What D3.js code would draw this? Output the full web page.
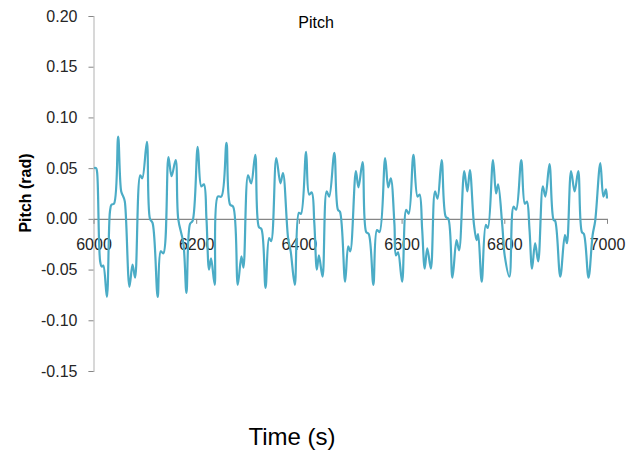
<!DOCTYPE html>
<html>
<head>
<meta charset="utf-8">
<script src="https://cdn.jsdelivr.net/npm/d3@7"></script>
<style>
  body { margin: 0; background: #fff; }
  text { font-family: "Liberation Sans", Arial, sans-serif; }
</style>
</head>
<body>
<div id="chart"></div>
<script>
// Time (s) and pitch (rad)
const time = [
  6001, 6005, 6007, 6013, 6016, 6019, 6026, 6032, 6035, 6040, 6048, 6054, 6058, 6061,
  6070, 6076, 6081, 6091, 6095, 6104, 6110, 6115, 6125, 6131, 6136, 6146, 6152, 6160,
  6165, 6175, 6181, 6188, 6193, 6203, 6210, 6215, 6220, 6225, 6229, 6236, 6242, 6249,
  6259, 6266, 6272, 6281, 6288, 6292, 6301, 6307, 6315, 6322, 6327, 6335, 6342, 6346,
  6356, 6364, 6369, 6379, 6384, 6392, 6400, 6404, 6414, 6420, 6425, 6430, 6435, 6439,
  6446, 6454, 6459, 6469, 6476, 6480, 6490, 6496, 6500, 6511, 6516, 6524, 6531, 6536,
  6545, 6552, 6557, 6568, 6574, 6579, 6586, 6589, 6593, 6601, 6609, 6614, 6623, 6631,
  6635, 6640, 6645, 6650, 6657, 6665, 6670, 6678, 6686, 6691, 6699, 6707, 6712, 6722,
  6728, 6733, 6741, 6746, 6749, 6756, 6764, 6768, 6778, 6784, 6788, 6796, 6801, 6810,
  6818, 6823, 6833, 6840, 6844, 6849, 6854, 6860, 6866, 6875, 6880, 6888, 6896, 6899,
  6909, 6918, 6922, 6930, 6937, 6944, 6951, 6955, 6964, 6972, 6977, 6987, 6993, 6998,
  7000
];
const pitch = [
  0.050, 0.050, 0.046, -0.042, -0.047, -0.046, -0.077, 0.007, 0.014, 0.015, 0.081, 0.027, 0.022, 0.017,
  -0.067, -0.045, -0.058, 0.043, 0.040, 0.076, 0.000, -0.004, -0.077, -0.032, -0.034, 0.061, 0.042, 0.058,
  0.000, -0.024, -0.073, -0.005, -0.002, 0.071, 0.032, 0.034, 0.000, -0.050, -0.039, -0.065, 0.022, 0.022,
  0.075, 0.014, 0.012, -0.065, -0.037, -0.048, 0.043, 0.035, 0.063, -0.008, -0.010, -0.068, -0.019, -0.022,
  0.060, 0.035, 0.045, -0.019, -0.032, -0.065, 0.006, 0.005, 0.066, 0.024, 0.026, -0.004, -0.050, -0.036,
  -0.057, 0.027, 0.022, 0.065, 0.009, 0.007, -0.062, -0.027, -0.032, 0.047, 0.031, 0.056, -0.013, -0.015,
  -0.065, -0.011, -0.013, 0.060, 0.031, 0.040, -0.005, -0.036, -0.033, -0.062, 0.009, 0.005, 0.063, 0.022,
  0.024, -0.010, -0.049, -0.029, -0.049, 0.027, 0.020, 0.058, 0.002, 0.000, -0.058, -0.021, -0.031, 0.047,
  0.027, 0.048, -0.006, -0.021, -0.015, -0.062, -0.006, -0.009, 0.058, 0.025, 0.034, -0.006, -0.037, -0.057,
  0.012, 0.009, 0.058, 0.015, 0.017, -0.010, -0.049, -0.024, -0.042, 0.032, 0.022, 0.054, -0.001, -0.002,
  -0.057, -0.016, -0.024, 0.047, 0.027, 0.047, -0.013, -0.015, -0.058, -0.016, -0.002, 0.055, 0.022, 0.029,
  0.020
];
const xTicks = [6000, 6200, 6400, 6600, 6800, 7000];
const yTicks = [-0.15, -0.10, -0.05, 0.00, 0.05, 0.10, 0.15, 0.20];

const W = 639, H = 454;
const data = time.map((t, i) => ({t: t, v: pitch[i]}));

const svg = d3.select("#chart").append("svg")
  .attr("width", W)
  .attr("height", H);

// scales
const x = d3.scaleLinear().domain([6000, 7000]).range([93.5, 607]);
const y = d3.scaleLinear().domain([-0.15, 0.20]).range([371, 16]);

// plain hyphen for negatives, like the original
const fmt = d => d.toFixed(2);

// y axis (left)
const yAxis = svg.append("g")
  .attr("transform", "translate(93.5,0)")
  .call(d3.axisLeft(y).tickValues(yTicks).tickSize(5).tickPadding(11)
    .tickFormat(fmt));
yAxis.select(".domain").attr("stroke", "#bfbfbf").attr("stroke-width", 1.2);
yAxis.selectAll(".tick line").attr("stroke", "#868686");
yAxis.selectAll(".tick text")
  .attr("font-size", 16)
  .attr("fill", "#262626")
  .attr("font-family", "Liberation Sans, Arial, sans-serif");

// x axis sits at pitch = 0
const xAxis = svg.append("g")
  .attr("transform", `translate(0,${y(0)})`)
  .call(d3.axisBottom(x).tickValues(xTicks).tickSize(5).tickPadding(15)
    .tickFormat(d3.format("d")).tickSizeOuter(0));
xAxis.select(".domain").attr("stroke", "#868686").attr("stroke-width", 1.2);
xAxis.selectAll(".tick line").attr("stroke", "#868686");
xAxis.selectAll(".tick text")
  .attr("font-size", 16)
  .attr("fill", "#262626")
  .attr("font-family", "Liberation Sans, Arial, sans-serif");

// the pitch line
const line = d3.line()
  .x(d => x(d.t))
  .y(d => y(d.v))
  .curve(d3.curveCatmullRom.alpha(0.5));

svg.append("path")
  .datum(data)
  .attr("fill", "none")
  .attr("stroke", "#4bacc6")
  .attr("stroke-width", 2.2)
  .attr("stroke-linejoin", "round")
  .attr("d", line);

// title
svg.append("text")
  .attr("x", 316)
  .attr("y", 28)
  .attr("text-anchor", "middle")
  .attr("font-size", 16)
  .attr("fill", "#000")
  .text("Pitch");

// y label
svg.append("text")
  .attr("transform", "translate(31,193) rotate(-90)")
  .attr("text-anchor", "middle")
  .attr("font-size", 16)
  .attr("font-weight", "bold")
  .attr("fill", "#000")
  .text("Pitch (rad)");

// x label
svg.append("text")
  .attr("x", 292)
  .attr("y", 445)
  .attr("text-anchor", "middle")
  .attr("font-size", 24)
  .attr("fill", "#000")
  .text("Time (s)");
</script>
</body>
</html>
